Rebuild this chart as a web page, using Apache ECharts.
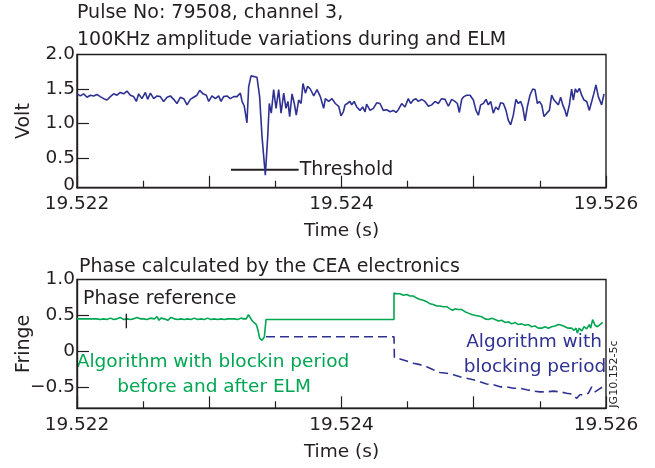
<!DOCTYPE html>
<html>
<head>
<meta charset="utf-8">
<script src="https://cdn.jsdelivr.net/npm/echarts@6/dist/echarts.min.js"></script>
<style>
  html, body { margin: 0; padding: 0; background: #fff; }
  #chart { width: 655px; height: 468px; }
</style>
</head>
<body>
<div id="chart"></div>
<script>
// 100 kHz amplitude (V) against time (s), pulse 79508, channel 3
const amplitude = [
  [19.522000, 1.43], [19.522025, 1.40], [19.522050, 1.43], [19.522076, 1.38], [19.522101, 1.41],
  [19.522126, 1.40], [19.522151, 1.42], [19.522176, 1.39], [19.522202, 1.36], [19.522227, 1.34],
  [19.522252, 1.39], [19.522277, 1.43], [19.522302, 1.41], [19.522328, 1.45], [19.522353, 1.43],
  [19.522378, 1.47], [19.522403, 1.41], [19.522428, 1.39], [19.522449, 1.32], [19.522466, 1.43],
  [19.522491, 1.36], [19.522517, 1.45], [19.522534, 1.35], [19.522555, 1.44], [19.522580, 1.36],
  [19.522605, 1.40], [19.522630, 1.39], [19.522655, 1.32], [19.522681, 1.38], [19.522706, 1.40],
  [19.522731, 1.35], [19.522756, 1.29], [19.522781, 1.38], [19.522807, 1.36], [19.522832, 1.27],
  [19.522857, 1.35], [19.522882, 1.38], [19.522907, 1.41], [19.522928, 1.48], [19.522953, 1.43],
  [19.522978, 1.41], [19.522996, 1.32], [19.523021, 1.40], [19.523046, 1.36], [19.523071, 1.40],
  [19.523089, 1.32], [19.523109, 1.39], [19.523134, 1.40], [19.523159, 1.36], [19.523185, 1.39],
  [19.523210, 1.39], [19.523235, 1.44], [19.523248, 1.32], [19.523265, 1.25], [19.523285, 1.01],
  [19.523298, 1.53], [19.523316, 1.69], [19.523361, 1.67], [19.523381, 1.39], [19.523399, 0.81],
  [19.523424, 0.25], [19.523442, 0.81], [19.523454, 1.29], [19.523469, 1.15], [19.523487, 1.49],
  [19.523505, 1.22], [19.523525, 1.49], [19.523543, 1.15], [19.523563, 1.44], [19.523580, 1.22],
  [19.523595, 1.32], [19.523608, 1.10], [19.523626, 1.43], [19.523643, 1.29], [19.523658, 1.12],
  [19.523676, 1.34], [19.523694, 1.29], [19.523709, 1.58], [19.523727, 1.44], [19.523744, 1.54],
  [19.523764, 1.50], [19.523790, 1.40], [19.523815, 1.49], [19.523840, 1.39], [19.523865, 1.22],
  [19.523878, 1.36], [19.523903, 1.32], [19.523928, 1.36], [19.523953, 1.29], [19.523979, 1.25],
  [19.523996, 1.11], [19.524014, 1.17], [19.524027, 1.27], [19.524044, 1.29], [19.524064, 1.32],
  [19.524077, 1.27], [19.524095, 1.32], [19.524115, 1.24], [19.524140, 1.19], [19.524160, 1.24],
  [19.524178, 1.17], [19.524190, 1.28], [19.524216, 1.19], [19.524241, 1.22], [19.524266, 1.30],
  [19.524291, 1.29], [19.524316, 1.19], [19.524342, 1.20], [19.524367, 1.17], [19.524392, 1.19],
  [19.524412, 1.16], [19.524430, 1.20], [19.524455, 1.29], [19.524480, 1.24], [19.524505, 1.36],
  [19.524523, 1.29], [19.524543, 1.34], [19.524563, 1.36], [19.524581, 1.32], [19.524606, 1.35],
  [19.524631, 1.32], [19.524657, 1.25], [19.524682, 1.27], [19.524707, 1.32], [19.524732, 1.29],
  [19.524757, 1.36], [19.524783, 1.35], [19.524808, 1.25], [19.524833, 1.35], [19.524858, 1.32],
  [19.524876, 1.29], [19.524891, 1.16], [19.524909, 1.35], [19.524926, 1.39], [19.524946, 1.41],
  [19.524972, 1.41], [19.524997, 1.34], [19.525017, 1.19], [19.525035, 1.12], [19.525052, 1.27],
  [19.525072, 1.29], [19.525093, 1.35], [19.525110, 1.27], [19.525128, 1.32], [19.525148, 1.15],
  [19.525166, 1.24], [19.525186, 1.20], [19.525203, 1.30], [19.525224, 1.29], [19.525244, 1.19],
  [19.525261, 1.05], [19.525279, 0.98], [19.525299, 1.12], [19.525319, 1.35], [19.525337, 1.29],
  [19.525355, 1.32], [19.525370, 1.24], [19.525388, 1.04], [19.525405, 1.24], [19.525425, 1.41],
  [19.525446, 1.50], [19.525463, 1.49], [19.525481, 1.29], [19.525496, 1.32], [19.525514, 1.27],
  [19.525531, 1.10], [19.525552, 1.15], [19.525572, 1.19], [19.525589, 1.41], [19.525607, 1.34],
  [19.525622, 1.36], [19.525640, 1.27], [19.525657, 1.38], [19.525673, 1.27], [19.525690, 1.19],
  [19.525703, 1.10], [19.525723, 1.27], [19.525740, 1.50], [19.525753, 1.34], [19.525768, 1.50],
  [19.525783, 1.45], [19.525799, 1.51], [19.525816, 1.41], [19.525834, 1.34], [19.525854, 1.32],
  [19.525874, 1.19], [19.525892, 1.32], [19.525909, 1.44], [19.525924, 1.56], [19.525942, 1.39],
  [19.525967, 1.27], [19.525985, 1.43]
];

// ELM detection threshold (V)
const threshold = [[19.523164, 0.33], [19.523676, 0.33]];

// Phase (fringe), algorithm with blocking before and after the ELM
const phaseBeforeAfter = [
  [19.522000, 0.45], [19.522050, 0.45], [19.522101, 0.45], [19.522151, 0.45], [19.522176, 0.44],
  [19.522202, 0.45], [19.522227, 0.44], [19.522252, 0.46], [19.522277, 0.44], [19.522302, 0.45],
  [19.522328, 0.47], [19.522353, 0.44], [19.522378, 0.45], [19.522403, 0.44], [19.522428, 0.45],
  [19.522454, 0.47], [19.522479, 0.45], [19.522504, 0.45], [19.522529, 0.44], [19.522555, 0.46],
  [19.522585, 0.45], [19.522605, 0.48], [19.522620, 0.43], [19.522635, 0.46], [19.522660, 0.45],
  [19.522686, 0.43], [19.522711, 0.47], [19.522736, 0.45], [19.522761, 0.44], [19.522786, 0.45],
  [19.522812, 0.44], [19.522837, 0.45], [19.522862, 0.44], [19.522887, 0.46], [19.522912, 0.44],
  [19.522938, 0.45], [19.522963, 0.44], [19.522988, 0.46], [19.523013, 0.44], [19.523038, 0.45],
  [19.523064, 0.44], [19.523089, 0.45], [19.523114, 0.44], [19.523139, 0.45], [19.523164, 0.45],
  [19.523190, 0.45], [19.523215, 0.44], [19.523240, 0.46], [19.523260, 0.45], [19.523280, 0.45],
  [19.523296, 0.51], [19.523311, 0.49], [19.523326, 0.42], [19.523341, 0.43], [19.523356, 0.37],
  [19.523369, 0.29], [19.523381, 0.18], [19.523399, 0.15], [19.523417, 0.20], [19.523429, 0.20],
  [19.523429, 0.44], [19.524397, 0.44], [19.524397, 0.81],
  [19.524417, 0.80], [19.524442, 0.80], [19.524468, 0.78], [19.524493, 0.79], [19.524518, 0.77],
  [19.524543, 0.77], [19.524568, 0.74], [19.524594, 0.72], [19.524619, 0.71], [19.524644, 0.69],
  [19.524669, 0.66], [19.524694, 0.65], [19.524720, 0.63], [19.524745, 0.63], [19.524770, 0.62],
  [19.524795, 0.62], [19.524820, 0.59], [19.524841, 0.57], [19.524858, 0.59], [19.524883, 0.58],
  [19.524909, 0.58], [19.524934, 0.55], [19.524959, 0.53], [19.524984, 0.51], [19.525009, 0.50],
  [19.525035, 0.49], [19.525060, 0.48], [19.525085, 0.45], [19.525110, 0.44], [19.525136, 0.46],
  [19.525161, 0.44], [19.525186, 0.42], [19.525211, 0.43], [19.525236, 0.40], [19.525262, 0.41],
  [19.525287, 0.38], [19.525312, 0.40], [19.525337, 0.37], [19.525362, 0.38], [19.525388, 0.36],
  [19.525413, 0.37], [19.525438, 0.34], [19.525463, 0.35], [19.525488, 0.32], [19.525514, 0.32],
  [19.525539, 0.34], [19.525564, 0.32], [19.525589, 0.34], [19.525614, 0.35], [19.525640, 0.37],
  [19.525665, 0.36], [19.525690, 0.34], [19.525715, 0.32], [19.525740, 0.32], [19.525758, 0.29],
  [19.525773, 0.32], [19.525783, 0.25], [19.525798, 0.32], [19.525816, 0.28], [19.525834, 0.34],
  [19.525854, 0.31], [19.525874, 0.37], [19.525884, 0.32], [19.525899, 0.44], [19.525917, 0.36],
  [19.525935, 0.34], [19.525955, 0.37], [19.525975, 0.40]
];

// Phase (fringe), algorithm with a single blocking period
const phaseBlocking = [
  [19.523429, 0.20], [19.524397, 0.20], [19.524400, -0.09], [19.524442, -0.11], [19.524493, -0.14],
  [19.524543, -0.17], [19.524594, -0.19], [19.524644, -0.22], [19.524694, -0.26], [19.524745, -0.30],
  [19.524795, -0.31], [19.524846, -0.33], [19.524896, -0.36], [19.524946, -0.38], [19.524997, -0.40],
  [19.525047, -0.43], [19.525098, -0.46], [19.525148, -0.47], [19.525199, -0.50], [19.525249, -0.50],
  [19.525299, -0.52], [19.525350, -0.52], [19.525400, -0.54], [19.525451, -0.56], [19.525501, -0.57],
  [19.525551, -0.57], [19.525602, -0.56], [19.525652, -0.57], [19.525703, -0.59], [19.525740, -0.60],
  [19.525778, -0.66], [19.525803, -0.61], [19.525841, -0.61], [19.525866, -0.59], [19.525892, -0.50],
  [19.525917, -0.57], [19.525942, -0.54], [19.525975, -0.50]
];

// Phase reference marker
const phaseReferenceMark = [[19.522373, 0.32], [19.522373, 0.52]];

// Axis ticks and labels
const timeLabelValues = [19.522, 19.524, 19.526];
const voltTickValues = [0, 0.5, 1.0, 1.5, 2.0];
const voltTickLabels = ['0', '0.5', '1.0', '1.5', '2.0'];
const fringeTickValues = [-0.5, 0, 0.5, 1.0];
const fringeTickLabels = ['\u22120.5', '0', '0.5', '1.0'];

const FONT = 'DejaVu Sans';
const INK = '#231f20';
const BLUE = '#2e3192';
const GREEN = '#00a651';

function timeAxis(gridIndex) {
  return {
    type: 'value', gridIndex: gridIndex,
    min: 19.522, max: 19.526, interval: 0.001,
    name: 'Time (s)', nameLocation: 'middle', nameGap: 34,
    nameTextStyle: { fontFamily: FONT, fontSize: 18.5, color: INK },
    axisLine: { show: true, onZero: false, lineStyle: { color: INK, width: 1.4 } },
    axisTick: { show: true, inside: true, length: 12, lineStyle: { color: INK, width: 1.2 } },
    minorTick: { show: true, splitNumber: 2, length: 7, lineStyle: { color: INK, width: 1.2 } },
    axisLabel: {
      customValues: timeLabelValues, margin: 7,
      fontFamily: FONT, fontSize: 18.5, color: INK,
      formatter: v => v.toFixed(3)
    },
    splitLine: { show: false }, minorSplitLine: { show: false }
  };
}

// Value axis; a label whose value lies below the axis start is drawn at the axis start
function valueAxis(gridIndex, min, max, values, labels, name, tickValues, lowLift) {
  const labelAt = values.map(v => Math.max(v, min));
  return {
    type: 'value', gridIndex: gridIndex, min: min, max: max,
    name: name, nameLocation: 'middle', nameGap: 43, nameMoveOverlap: false,
    nameTextStyle: { fontFamily: FONT, fontSize: 19, color: INK },
    axisLine: { show: true, onZero: false, lineStyle: { color: INK, width: 1.4 } },
    axisTick: { show: true, inside: true, length: 12, customValues: tickValues,
                lineStyle: { color: INK, width: 1.2 } },
    axisLabel: {
      customValues: labelAt, margin: 2,
      fontFamily: FONT, fontSize: 18.5, color: INK,
      formatter: v => {
        const i = labelAt.findIndex(x => Math.abs(x - v) < 1e-9);
        const t = i >= 0 ? labels[i] : '';
        return (lowLift && Math.abs(v - min) < 1e-9) ? '{z|' + t + '}' : t;
      },
      rich: { z: { fontFamily: FONT, fontSize: 18.5, color: INK, padding: [0, 0, lowLift || 0, 0] } }
    },
    splitLine: { show: false }
  };
}

function txt(x, y, text, opts) {
  return Object.assign({
    type: 'text', x: x, y: y, silent: true,
    style: Object.assign({
      text: text, fill: INK, font: '19px "' + FONT + '"',
      align: 'left', verticalAlign: 'middle'
    }, (opts && opts.style) || {})
  }, (opts && opts.el) || {});
}

const chart = echarts.init(document.getElementById('chart'), null, { renderer: 'canvas' });
chart.setOption({
  animation: false,
  backgroundColor: '#ffffff',
  grid: [
    { left: 77, right: 49, top: 54.5, height: 133.2, show: true, borderColor: INK, borderWidth: 1.4 },
    { left: 77, right: 49, top: 279.5, height: 128.8, show: true, borderColor: INK, borderWidth: 1.4 }
  ],
  xAxis: [timeAxis(0), timeAxis(1)],
  yAxis: [
    valueAxis(0, 0.07, 2.0, voltTickValues, voltTickLabels, 'Volt', [0.5, 1.0, 1.5], 5),
    valueAxis(1, -0.8, 1.0, fringeTickValues, fringeTickLabels, 'Fringe', [-0.5, 0, 0.5], 0)
  ],
  series: [
    {
      type: 'line', xAxisIndex: 0, yAxisIndex: 0, data: amplitude,
      showSymbol: false, lineStyle: { color: BLUE, width: 1.6 }, z: 3
    },
    {
      type: 'line', xAxisIndex: 0, yAxisIndex: 0, data: threshold,
      showSymbol: false, lineStyle: { color: INK, width: 1.8 }, z: 2,
      endLabel: { show: true, formatter: 'Threshold', distance: 1,
                  fontFamily: FONT, fontSize: 19, color: INK }
    },
    {
      type: 'line', xAxisIndex: 1, yAxisIndex: 1, data: phaseBlocking,
      showSymbol: false, lineStyle: { color: BLUE, width: 1.6, type: [9, 5] }
    },
    {
      type: 'line', xAxisIndex: 1, yAxisIndex: 1, data: phaseBeforeAfter,
      showSymbol: false, lineStyle: { color: GREEN, width: 1.6 }, z: 3
    },
    {
      type: 'line', xAxisIndex: 1, yAxisIndex: 1, data: phaseReferenceMark,
      showSymbol: false, lineStyle: { color: INK, width: 1.4 }, z: 4
    }
  ],
  graphic: [
    txt(77, 13, 'Pulse No: 79508, channel 3,'),
    txt(77, 40, '100KHz amplitude variations during and ELM'),
    txt(79, 267, 'Phase calculated by the CEA electronics'),
    txt(83, 299, 'Phase reference'),
    txt(213, 362, 'Algorithm with blockin period', { style: { fill: GREEN, align: 'center', font: '18.5px "' + FONT + '"' } }),
    txt(214, 387, 'before and after ELM', { style: { fill: GREEN, align: 'center', font: '18.5px "' + FONT + '"' } }),
    txt(534, 342, 'Algorithm with', { style: { fill: BLUE, align: 'center', font: '18.5px "' + FONT + '"' } }),
    txt(535, 367, 'blocking period', { style: { fill: BLUE, align: 'center', font: '18.5px "' + FONT + '"' } }),
    txt(614, 374, 'JG10.152-5c', { style: { align: 'center', font: '11px "' + FONT + '"' },
                                   el: { rotation: Math.PI / 2 } })
  ]
});
</script>
</body>
</html>
